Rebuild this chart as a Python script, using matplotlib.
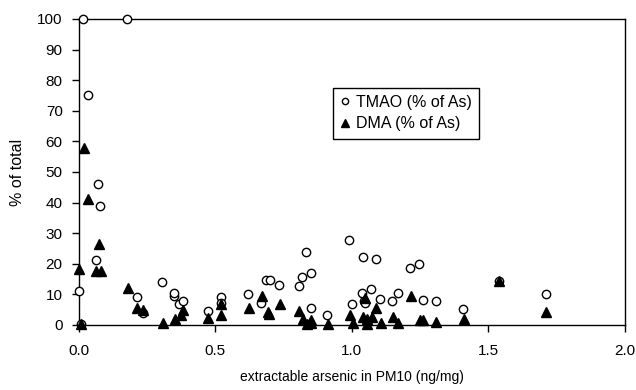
import matplotlib
matplotlib.use('Agg')
import matplotlib.pyplot as plt

plt.rcParams['font.family'] = ['Liberation Sans', 'DejaVu Sans']

# --- data ---
tmao_x = [0.00, 0.01, 0.017, 0.034, 0.062, 0.072, 0.078, 0.178, 0.212, 0.237,
          0.307, 0.349, 0.35, 0.369, 0.381, 0.472, 0.521, 0.521, 0.621, 0.669,
          0.688, 0.70, 0.735, 0.806, 0.82, 0.834, 0.85, 0.853, 0.911, 0.991,
          1.002, 1.038, 1.043, 1.045, 1.049, 1.071, 1.088, 1.104, 1.148, 1.170,
          1.213, 1.248, 1.26, 1.308, 1.409, 1.541, 1.714]
tmao_y = [11, 0.3, 100, 75, 21.3, 46, 39, 100, 9, 3.8,
          13.9, 9.5, 10.6, 6.8, 8, 4.7, 9.3, 7.1, 10, 7.2,
          14.8, 14.8, 13.2, 12.9, 15.6, 23.8, 16.9, 5.5, 3.2, 27.9,
          6.8, 10.6, 22.2, 8.0, 7.3, 11.7, 21.6, 8.4, 8.0, 10.4,
          18.5, 19.8, 8.2, 8.0, 5.2, 14.5, 10.2]

dma_x = [0.00, 0.01, 0.019, 0.035, 0.062, 0.075, 0.082, 0.179, 0.215, 0.237,
         0.31, 0.353, 0.374, 0.381, 0.472, 0.521, 0.521, 0.624, 0.671, 0.692,
         0.698, 0.737, 0.808, 0.823, 0.835, 0.85, 0.853, 0.912, 0.994, 1.006,
         1.04, 1.049, 1.055, 1.057, 1.073, 1.089, 1.106, 1.15, 1.17, 1.216,
         1.25, 1.262, 1.309, 1.411, 1.541, 1.714]
dma_y = [18.3, 0.2, 58, 41.3, 17.8, 26.5, 17.5, 12, 5.5, 4.9,
         0.8, 1.9, 3.3, 4.9, 2.4, 7.0, 3.3, 5.5, 9.6, 4.4,
         3.5, 6.9, 4.7, 1.9, 0.2, 0.6, 1.6, 0.2, 3.3, 0.5,
         2.7, 8.7, 1.9, 0.2, 2.7, 5.7, 0.5, 2.5, 0.8, 9.5,
         1.6, 1.6, 1.1, 1.9, 14.5, 4.4]

fig = plt.figure(figsize=(6.36, 3.90), dpi=100)
ax = fig.add_axes([0.1237, 0.1667, 0.8583, 0.7846])

ax.plot(tmao_x, tmao_y, linestyle='none', marker='o', markersize=6,
        markerfacecolor='white', markeredgecolor='black', markeredgewidth=1,
        label='TMAO (% of As)', clip_on=False, zorder=3)
ax.plot(dma_x, dma_y, linestyle='none', marker='^', markersize=7.5,
        color='black', label='DMA (% of As)', clip_on=False, zorder=4)

ax.set_xlim(0, 2.0)
ax.set_ylim(0, 100)
ax.set_xticks([0.0, 0.5, 1.0, 1.5, 2.0])
ax.set_xticklabels(['0.0', '0.5', '1.0', '1.5', '2.0'])
ax.set_yticks(range(0, 101, 10))
ax.tick_params(direction='out', length=5, width=1, labelsize=11, colors='black')
ax.tick_params(axis='y', pad=6.5)
ax.tick_params(axis='x', pad=9)

for s in ax.spines.values():
    s.set_linewidth(1)
    s.set_color('black')

ax.set_xlabel('extractable arsenic in PM10 (ng/mg)', fontsize=10, labelpad=8)
ax.set_ylabel('% of total', fontsize=11.5, labelpad=9)

leg = ax.legend(loc='upper left', bbox_to_anchor=(0.466, 0.775), fontsize=11.5,
                frameon=True, fancybox=False, edgecolor='black', framealpha=1,
                handlelength=0.6, handletextpad=0.4, markerscale=0.75,
                borderpad=0.45, labelspacing=0.4, borderaxespad=0)
leg.get_frame().set_linewidth(1)

fig.savefig('out.png', dpi=100)
